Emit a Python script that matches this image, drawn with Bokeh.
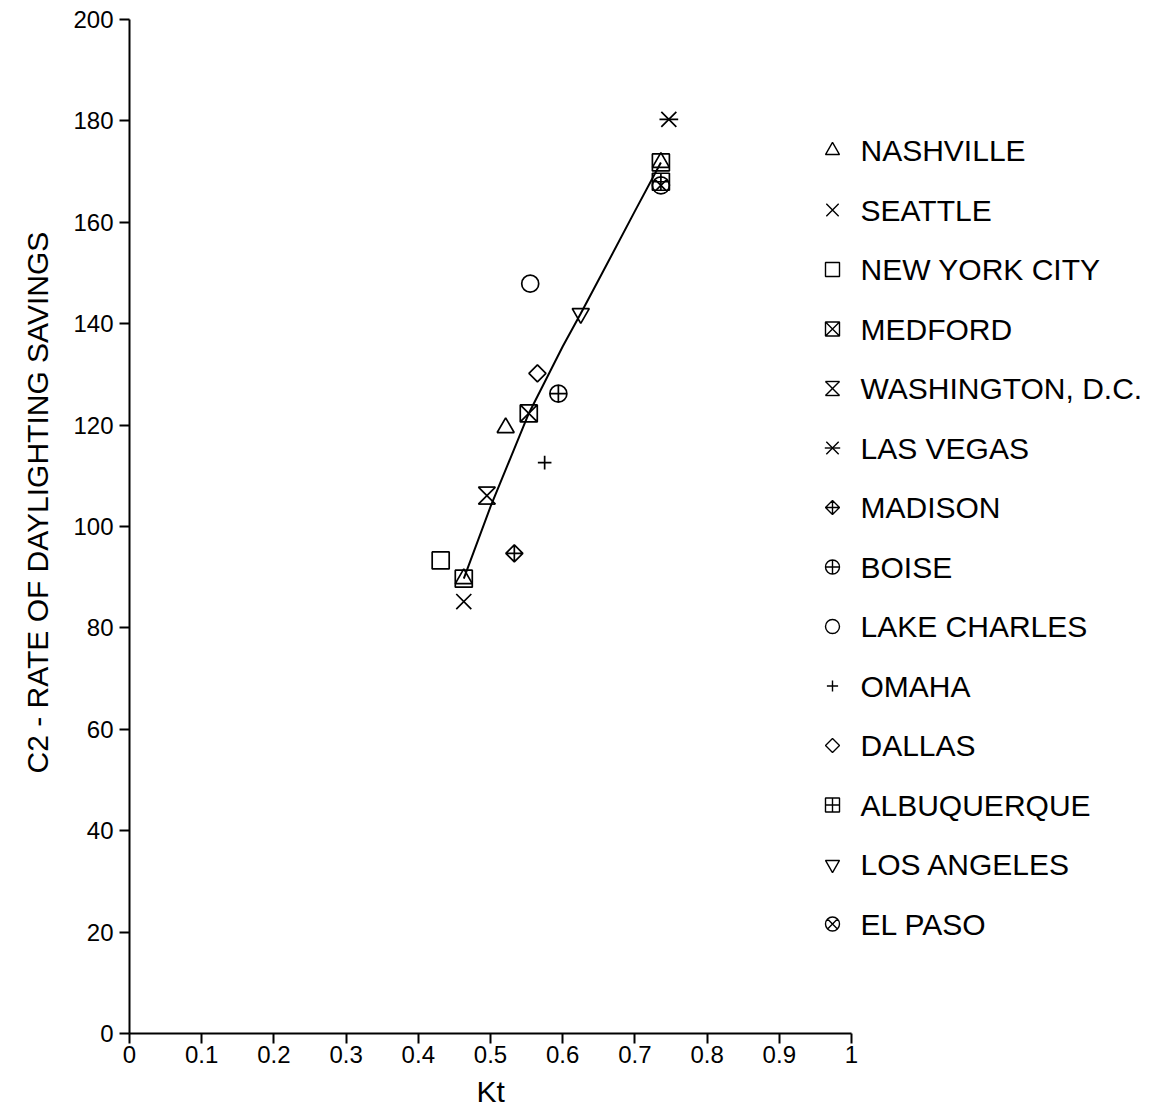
import math
from bokeh.plotting import figure
from bokeh.models import Range1d, FixedTicker, Title
from bokeh.core.properties import value
from bokeh.embed import file_html
from bokeh.resources import INLINE

# --- data -------------------------------------------------------------
cities = ["NASHVILLE", "SEATTLE", "NEW YORK CITY", "MEDFORD", "WASHINGTON, D.C.",
          "LAS VEGAS", "MADISON", "BOISE", "LAKE CHARLES", "OMAHA", "DALLAS",
          "ALBUQUERQUE", "LOS ANGELES", "EL PASO"]
kt = [0.521, 0.463, 0.431, 0.553, 0.495, 0.747, 0.533, 0.594, 0.555, 0.575,
      0.565, 0.736, 0.625, 0.736]
c2 = [119.5, 85.2, 93.3, 122.3, 106.1, 180.3, 94.7, 126.2, 147.9, 112.6,
      130.2, 168.0, 142.0, 167.3]
symbols = ["triangle", "x", "square", "square_x", "hourglass", "x_dash",
           "diamond_plus", "circle_cross", "circle", "cross", "diamond_sq",
           "square_cross", "inverted_triangle", "circle_x"]

# fitted curve through the cities
fit_kt = [0.463, 0.500, 0.553, 0.600, 0.625, 0.650, 0.700, 0.736]
fit_c2 = [89.7, 103.9, 122.3, 135.5, 142.0, 148.7, 162.2, 171.8]

x_ticks = [0, 0.1, 0.2, 0.3, 0.4, 0.5, 0.6, 0.7, 0.8, 0.9, 1]
x_tick_labels = ["0", "0.1", "0.2", "0.3", "0.4", "0.5", "0.6", "0.7", "0.8", "0.9", "1"]
y_ticks = [0, 20, 40, 60, 80, 100, 120, 140, 160, 180, 200]

# --- layout constants (pixels) ----------------------------------------
W, H = 1163, 1118
LEFT, TOP, BOTTOM = 129, 19, 1033
PX_X = 722.0                      # pixels per unit Kt
PX_Y = (BOTTOM - TOP) / 200.0     # pixels per unit C2
FONT = "Liberation Sans"

p = figure(width=W, height=H, output_backend="svg", toolbar_location=None,
           x_range=Range1d(0, (W - LEFT) / PX_X), y_range=Range1d(0, 200),
           min_border_left=LEFT, min_border_right=0, min_border_top=TOP,
           min_border_bottom=H - BOTTOM)
p.outline_line_color = None
p.grid.visible = False
p.background_fill_color = "white"
p.border_fill_color = "white"

for ax in (p.xaxis, p.yaxis):
    ax.axis_line_width = 2
    ax.axis_line_color = "black"
    ax.major_tick_line_width = 2
    ax.major_tick_line_color = "black"
    ax.major_tick_in = 0
    ax.major_tick_out = 10
    ax.minor_tick_line_color = None
    ax.major_label_text_font = FONT
    ax.major_label_text_font_size = "24px"
    ax.major_label_text_color = "black"

p.xaxis.bounds = (0, 1)
p.xaxis.ticker = FixedTicker(ticks=x_ticks)
p.xaxis.major_label_overrides = dict(zip(x_ticks, x_tick_labels))
p.xaxis.major_label_standoff = 2
p.yaxis.bounds = (0, 200)
p.yaxis.ticker = FixedTicker(ticks=y_ticks)
p.yaxis.major_label_standoff = 6

# axis titles, placed in the side panels (offset measured from the frame start)
p.add_layout(Title(text="Kt", align="left", offset=0.5 * PX_X - 14,
                   vertical_align="top",
                   text_font=FONT, text_font_size="30px", text_font_style="normal",
                   text_color="black", standoff=18), "below")
p.add_layout(Title(text="C2 - RATE OF DAYLIGHTING SAVINGS", align="left",
                   offset=BOTTOM - 773, text_font=FONT, text_font_size="30px",
                   text_font_style="normal", text_color="black", standoff=33), "left")


def draw_marker(sym, xs, ys, size, lw=1.7):
    kw = dict(fill_color=None, line_color="black", line_width=lw)
    if sym == "hourglass":
        h = size / 2 / PX_X
        v = size / 2 / PX_Y
        x0 = [x - h for x in xs]
        x1 = [x + h for x in xs]
        yt = [y + v for y in ys]
        yb = [y - v for y in ys]
        seg = dict(line_color="black", line_width=lw)
        p.segment(x0, yt, x1, yt, **seg)
        p.segment(x0, yb, x1, yb, **seg)
        p.segment(x0, yt, x1, yb, **seg)
        p.segment(x1, yt, x0, yb, **seg)
    elif sym == "x_dash":
        p.scatter(xs, ys, marker="x", size=size * 1.25, **kw)
        p.scatter(xs, ys, marker="dash", size=size * 1.1, **kw)
    elif sym == "x":
        p.scatter(xs, ys, marker="x", size=size * 1.25, **kw)
    elif sym == "cross":
        p.scatter(xs, ys, marker="cross", size=size * 0.8, **kw)
    elif sym == "diamond_sq":
        p.scatter(xs, ys, marker="square", size=size / math.sqrt(2),
                  angle=math.pi / 4, **kw)
    elif sym == "diamond_plus":
        p.scatter(xs, ys, marker="square_x", size=size / math.sqrt(2),
                  angle=math.pi / 4, **kw)
    else:
        p.scatter(xs, ys, marker=sym, size=size, **kw)


# fitted curve with its end markers
p.line(fit_kt, fit_c2, line_color="black", line_width=2)
ends_x = [fit_kt[0], fit_kt[-1]]
ends_y = [fit_c2[0], fit_c2[-1]]
draw_marker("square", ends_x, ends_y, 17)
draw_marker("triangle", ends_x, ends_y, 17)

# city points
for i, sym in enumerate(symbols):
    draw_marker(sym, [kt[i]], [c2[i]], 17)

# key, drawn in the right-hand part of the frame
LEG_MARK_PX, LEG_TEXT_PX = 832, 860
LEG_Y0_PX, LEG_DY_PX = 150, 59.5
leg_mx = (LEG_MARK_PX - LEFT) / PX_X
leg_tx = (LEG_TEXT_PX - LEFT) / PX_X
leg_y = [(BOTTOM - (LEG_Y0_PX + LEG_DY_PX * i)) / PX_Y for i in range(len(cities))]
for i, sym in enumerate(symbols):
    draw_marker(sym, [leg_mx], [leg_y[i]], 14, lw=1.4)
p.text(x=[leg_tx] * len(cities), y=leg_y, text=cities,
       text_font=value(FONT), text_font_size="30px", text_color="black",
       text_align="left", text_baseline="middle")

open("out.html", "w").write(file_html(p, INLINE))
